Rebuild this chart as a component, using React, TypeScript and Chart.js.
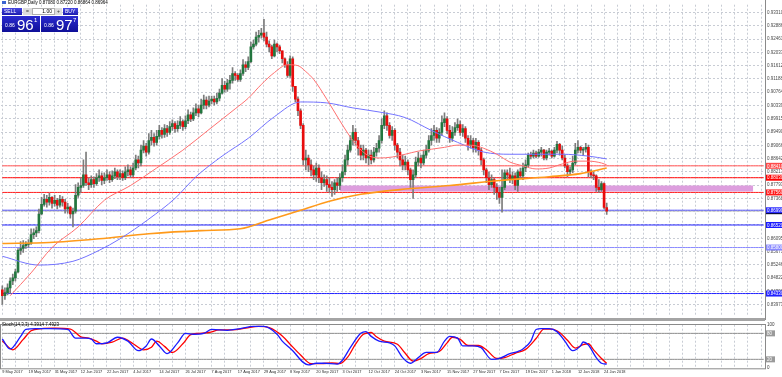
import React, { useEffect, useRef } from "react";
import { Chart, registerables } from "chart.js";

Chart.register(...registerables);

const N_SLOTS = 292;
const FONT = '"Liberation Sans", Arial, sans-serif';
const GRID = "#c8ccd4";

const DATE_LABELS = ["9 May 2017", "19 May 2017", "31 May 2017", "12 Jun 2017", "22 Jun 2017", "4 Jul 2017", "14 Jul 2017", "26 Jul 2017", "7 Aug 2017", "17 Aug 2017", "29 Aug 2017", "8 Sep 2017", "20 Sep 2017", "3 Oct 2017", "12 Oct 2017", "24 Oct 2017", "3 Nov 2017", "15 Nov 2017", "27 Nov 2017", "7 Dec 2017", "19 Dec 2017", "1 Jan 2018", "12 Jan 2018", "24 Jan 2018"];

const PRICE_TICKS = [0.9331, 0.92886, 0.92461, 0.92037, 0.91612, 0.91188, 0.90764, 0.90339, 0.89915, 0.8949, 0.89066, 0.88642, 0.88217, 0.87793, 0.87368, 0.86944, 0.8652, 0.86095, 0.85671, 0.85246, 0.84822, 0.84398, 0.83973];
const PRICE_MIN = 0.83635;
const PRICE_MAX = 0.93557;

const FIRST_OPEN = 0.8445;
const CLOSE = [
  0.8426, 0.8436, 0.8451, 0.8473, 0.8483, 0.8502, 0.8571, 0.8577, 0.8586, 0.8590,
  0.8593, 0.8621, 0.8627, 0.8634, 0.8687, 0.8718, 0.8734, 0.8725, 0.8740, 0.8721,
  0.8731, 0.8715, 0.8734, 0.8725, 0.8703, 0.8709, 0.8687, 0.8696, 0.8747, 0.8772,
  0.8778, 0.8812, 0.8787, 0.8781, 0.8797, 0.8784, 0.8803, 0.8809, 0.8794, 0.8803,
  0.8812, 0.8797, 0.8809, 0.8822, 0.8806, 0.8816, 0.8803, 0.8822, 0.8828, 0.8812,
  0.8834, 0.8860, 0.8850, 0.8891, 0.8904, 0.8885, 0.8922, 0.8932, 0.8916, 0.8935,
  0.8954, 0.8941, 0.8960, 0.8948, 0.8966, 0.8976, 0.8960, 0.8970, 0.8982, 0.8966,
  0.8985, 0.9004, 0.8991, 0.9010, 0.9023, 0.9010, 0.9035, 0.9051, 0.9035, 0.9048,
  0.9054, 0.9045, 0.9057, 0.9073, 0.9098, 0.9086, 0.9105, 0.9114, 0.9136, 0.9130,
  0.9117, 0.9136, 0.9164, 0.9155, 0.9174, 0.9221, 0.9230, 0.9252, 0.9258, 0.9265,
  0.9252, 0.9230, 0.9221, 0.9192, 0.9230, 0.9221, 0.9208, 0.9183, 0.9164, 0.9130,
  0.9183, 0.9095, 0.9054, 0.9017, 0.8970, 0.8860, 0.8866, 0.8844, 0.8828, 0.8812,
  0.8834, 0.8803, 0.8787, 0.8797, 0.8781, 0.8772, 0.8765, 0.8787, 0.8778, 0.8803,
  0.8822, 0.8860, 0.8891, 0.8922, 0.8948, 0.8922, 0.8897, 0.8875, 0.8891, 0.8866,
  0.8875, 0.8860, 0.8885, 0.8897, 0.8922, 0.8970, 0.9001, 0.8970, 0.8938, 0.8954,
  0.8907, 0.8885, 0.8860, 0.8844, 0.8853, 0.8828, 0.8797, 0.8812, 0.8853, 0.8866,
  0.8850, 0.8875, 0.8891, 0.8922, 0.8938, 0.8954, 0.8929, 0.8948, 0.8979, 0.8991,
  0.8954, 0.8929, 0.8948, 0.8963, 0.8973, 0.8948, 0.8960, 0.8929, 0.8907, 0.8922,
  0.8897, 0.8916, 0.8891, 0.8860, 0.8828, 0.8803, 0.8781, 0.8797, 0.8772, 0.8756,
  0.8740, 0.8772, 0.8819, 0.8812, 0.8797, 0.8809, 0.8778, 0.8822, 0.8809, 0.8834,
  0.8844, 0.8875, 0.8872, 0.8882, 0.8872, 0.8885, 0.8891, 0.8866, 0.8885, 0.8888,
  0.8872, 0.8891, 0.8910, 0.8891, 0.8866, 0.8841, 0.8822, 0.8828, 0.8850, 0.8891,
  0.8900, 0.8891, 0.8894, 0.8900, 0.8822, 0.8812, 0.8809, 0.8772, 0.8765, 0.8784,
  0.8708, 0.8696,
];
const HIGH = [
  0.8458, 0.8451, 0.8464, 0.8483, 0.8495, 0.8511, 0.8577, 0.8599, 0.8602, 0.8599,
  0.8605, 0.8640, 0.8640, 0.8646, 0.8703, 0.8740, 0.8750, 0.8747, 0.8753, 0.8743,
  0.8747, 0.8737, 0.8747, 0.8743, 0.8734, 0.8721, 0.8712, 0.8706, 0.8781, 0.8787,
  0.8803, 0.8860, 0.8885, 0.8803, 0.8809, 0.8806, 0.8816, 0.8828, 0.8819, 0.8819,
  0.8828, 0.8822, 0.8825, 0.8834, 0.8828, 0.8828, 0.8825, 0.8838, 0.8844, 0.8838,
  0.8850, 0.8875, 0.8872, 0.8907, 0.8922, 0.8913, 0.8944, 0.8954, 0.8944, 0.8954,
  0.8970, 0.8963, 0.8973, 0.8970, 0.8982, 0.8988, 0.8982, 0.8985, 0.8998, 0.8988,
  0.9001, 0.9020, 0.9013, 0.9026, 0.9039, 0.9035, 0.9054, 0.9067, 0.9061, 0.9064,
  0.9064, 0.9064, 0.9073, 0.9086, 0.9120, 0.9111, 0.9117, 0.9130, 0.9155, 0.9142,
  0.9136, 0.9148, 0.9180, 0.9174, 0.9189, 0.9236, 0.9243, 0.9268, 0.9274, 0.9280,
  0.9309, 0.9268, 0.9240, 0.9227, 0.9243, 0.9233, 0.9227, 0.9205, 0.9186, 0.9174,
  0.9192, 0.9189, 0.9092, 0.9061, 0.9023, 0.8976, 0.8891, 0.8875, 0.8860, 0.8841,
  0.8850, 0.8844, 0.8822, 0.8812, 0.8809, 0.8803, 0.8791, 0.8797, 0.8803, 0.8816,
  0.8844, 0.8875, 0.8907, 0.8938, 0.8970, 0.8960, 0.8932, 0.8907, 0.8907, 0.8897,
  0.8891, 0.8891, 0.8900, 0.8913, 0.8938, 0.8991, 0.9017, 0.9010, 0.8979, 0.8966,
  0.8960, 0.8913, 0.8897, 0.8875, 0.8872, 0.8860, 0.8834, 0.8828, 0.8869, 0.8885,
  0.8875, 0.8891, 0.8907, 0.8938, 0.8960, 0.8970, 0.8963, 0.8960, 0.9001, 0.9010,
  0.8998, 0.8970, 0.8966, 0.8979, 0.8991, 0.8985, 0.8973, 0.8966, 0.8938, 0.8938,
  0.8929, 0.8929, 0.8922, 0.8897, 0.8866, 0.8834, 0.8822, 0.8812, 0.8803, 0.8784,
  0.8772, 0.8828, 0.8828, 0.8828, 0.8834, 0.8822, 0.8819, 0.8828, 0.8834, 0.8850,
  0.8860, 0.8882, 0.8885, 0.8891, 0.8888, 0.8894, 0.8900, 0.8894, 0.8891, 0.8897,
  0.8891, 0.8900, 0.8919, 0.8913, 0.8904, 0.8875, 0.8847, 0.8838, 0.8872, 0.8913,
  0.8922, 0.8904, 0.8900, 0.8913, 0.8907, 0.8828, 0.8822, 0.8812, 0.8797, 0.8791,
  0.8787, 0.8722,
];
const LOW = [
  0.8398, 0.8414, 0.8429, 0.8433, 0.8461, 0.8473, 0.8499, 0.8558, 0.8564, 0.8577,
  0.8580, 0.8590, 0.8608, 0.8615, 0.8627, 0.8684, 0.8712, 0.8709, 0.8715, 0.8706,
  0.8712, 0.8703, 0.8709, 0.8712, 0.8690, 0.8690, 0.8674, 0.8646, 0.8690, 0.8740,
  0.8756, 0.8772, 0.8778, 0.8765, 0.8772, 0.8772, 0.8778, 0.8791, 0.8781, 0.8784,
  0.8794, 0.8787, 0.8791, 0.8800, 0.8797, 0.8797, 0.8794, 0.8797, 0.8809, 0.8803,
  0.8806, 0.8828, 0.8834, 0.8841, 0.8882, 0.8872, 0.8878, 0.8907, 0.8904, 0.8907,
  0.8926, 0.8929, 0.8932, 0.8935, 0.8941, 0.8954, 0.8948, 0.8951, 0.8960, 0.8954,
  0.8960, 0.8976, 0.8982, 0.8985, 0.9001, 0.8998, 0.9007, 0.9023, 0.9023, 0.9029,
  0.9039, 0.9035, 0.9039, 0.9048, 0.9070, 0.9076, 0.9079, 0.9086, 0.9105, 0.9114,
  0.9111, 0.9111, 0.9130, 0.9142, 0.9148, 0.9170, 0.9214, 0.9224, 0.9236, 0.9249,
  0.9240, 0.9221, 0.9205, 0.9183, 0.9189, 0.9205, 0.9199, 0.9170, 0.9155, 0.9123,
  0.9123, 0.9079, 0.9045, 0.9001, 0.8960, 0.8844, 0.8828, 0.8822, 0.8809, 0.8797,
  0.8791, 0.8787, 0.8765, 0.8775, 0.8759, 0.8756, 0.8743, 0.8750, 0.8759, 0.8765,
  0.8791, 0.8812, 0.8844, 0.8885, 0.8907, 0.8907, 0.8875, 0.8860, 0.8860, 0.8850,
  0.8844, 0.8847, 0.8853, 0.8872, 0.8885, 0.8913, 0.8960, 0.8954, 0.8929, 0.8922,
  0.8891, 0.8866, 0.8841, 0.8828, 0.8828, 0.8812, 0.8772, 0.8737, 0.8803, 0.8841,
  0.8834, 0.8844, 0.8866, 0.8885, 0.8907, 0.8922, 0.8916, 0.8916, 0.8938, 0.8966,
  0.8944, 0.8916, 0.8919, 0.8938, 0.8954, 0.8938, 0.8935, 0.8916, 0.8891, 0.8897,
  0.8885, 0.8885, 0.8875, 0.8844, 0.8812, 0.8787, 0.8765, 0.8772, 0.8750, 0.8734,
  0.8721, 0.8693, 0.8765, 0.8797, 0.8787, 0.8784, 0.8765, 0.8759, 0.8803, 0.8797,
  0.8822, 0.8838, 0.8863, 0.8866, 0.8866, 0.8869, 0.8872, 0.8860, 0.8860, 0.8875,
  0.8866, 0.8869, 0.8882, 0.8875, 0.8860, 0.8834, 0.8806, 0.8812, 0.8819, 0.8844,
  0.8882, 0.8882, 0.8875, 0.8885, 0.8806, 0.8803, 0.8797, 0.8759, 0.8756, 0.8759,
  0.8703, 0.8686,
];

// moving averages: [bar index, price]
const MA_RED: [number, number][] = [[3, 0.8426], [11, 0.8499], [19, 0.858], [29, 0.8646], [39, 0.8731], [49, 0.8778], [59, 0.8834], [69, 0.8891], [79, 0.8957], [89, 0.9023], [94, 0.9057], [99, 0.9101], [104, 0.9139], [109, 0.9164], [113, 0.9161], [116, 0.9142], [119, 0.9117], [124, 0.9054], [129, 0.8985], [134, 0.8922], [139, 0.8878], [144, 0.8866], [149, 0.8869], [154, 0.8878], [159, 0.8888], [164, 0.8894], [169, 0.89], [174, 0.8907], [179, 0.8907], [184, 0.8897], [189, 0.8878], [194, 0.8853], [199, 0.8841], [204, 0.8831], [209, 0.8834], [214, 0.8847], [219, 0.8856], [224, 0.8856], [229, 0.885], [231, 0.8844]];
const MA_BLUE: [number, number][] = [[0, 0.8552], [14, 0.8524], [27, 0.8536], [37, 0.8571], [45, 0.8608], [56, 0.8671], [66, 0.8737], [74, 0.8806], [84, 0.8872], [94, 0.8929], [104, 0.8998], [114, 0.9045], [124, 0.9042], [134, 0.9026], [144, 0.9013], [154, 0.8995], [164, 0.8954], [174, 0.8916], [184, 0.8885], [194, 0.8878], [204, 0.8878], [214, 0.8878], [224, 0.8872], [231, 0.8863]];
const MA_ORANGE: [number, number][] = [[0, 0.8593], [18, 0.8596], [37, 0.8608], [56, 0.8624], [76, 0.8634], [91, 0.864], [102, 0.8668], [114, 0.8699], [125, 0.8728], [137, 0.875], [152, 0.8765], [171, 0.8778], [190, 0.8794], [209, 0.8806], [221, 0.8816], [231, 0.8834]];

// stochastic (14,3,3): [bar index, value]
const STOCH_K: [number, number][] = [[0, 67], [3, 44], [7, 73], [9, 89], [13, 91], [18, 91], [25, 89], [28, 69], [32, 69], [34, 67], [36, 56], [40, 58], [44, 71], [48, 62], [52, 40], [55, 51], [57, 67], [60, 51], [63, 33], [67, 58], [70, 80], [73, 78], [77, 80], [80, 89], [86, 87], [91, 91], [96, 96], [100, 96], [105, 78], [107, 62], [111, 40], [115, 13], [117, 7], [120, 11], [123, 11], [128, 9], [130, 18], [133, 47], [137, 80], [139, 84], [141, 73], [144, 62], [148, 58], [150, 51], [153, 24], [156, 11], [159, 24], [162, 36], [166, 36], [169, 62], [171, 73], [174, 69], [176, 51], [180, 51], [183, 47], [187, 20], [190, 22], [194, 33], [197, 38], [199, 44], [202, 62], [204, 89], [206, 91], [209, 91], [212, 84], [215, 62], [218, 40], [221, 51], [222, 60], [224, 53], [227, 24], [229, 11], [231, 9]];
const STOCH_D: [number, number][] = [[0, 63], [4, 42], [8, 66], [11, 86], [15, 91], [20, 92], [26, 90], [30, 72], [33, 69], [36, 62], [38, 56], [42, 60], [46, 69], [50, 56], [54, 42], [57, 48], [59, 62], [62, 50], [65, 36], [69, 56], [72, 77], [75, 80], [79, 82], [83, 88], [88, 88], [93, 92], [98, 96], [102, 93], [107, 74], [110, 55], [114, 30], [118, 10], [122, 10], [126, 12], [129, 10], [132, 25], [135, 55], [138, 78], [141, 82], [143, 72], [146, 62], [151, 55], [154, 34], [157, 16], [160, 22], [163, 33], [167, 38], [170, 58], [172, 71], [175, 66], [178, 52], [182, 52], [185, 42], [189, 22], [192, 24], [196, 34], [200, 43], [204, 68], [207, 90], [210, 90], [213, 82], [216, 64], [219, 46], [222, 54], [224, 56], [226, 42], [229, 22], [231, 11]];
const STOCH_LEVELS = [20, 80];

const LEVEL_PRICES = [0.8841, 0.8803, 0.8756, 0.8699, 0.8652, 0.858, 0.8433];
const LEVEL_COLORS = ["#ff4a4a", "#ff0000", "#ff1a1a", "#2a2aff", "#1a1aff", "#8a8aff", "#2020ff"];
const BAND_TOP = 0.8778;
const BAND_BOTTOM = 0.8759;
const BAND_FROM = 129;
const BAND_TO = 287;
const BID = 0.86961;

function sparse(points: [number, number][]) {
  const a: (number | null)[] = new Array(N_SLOTS).fill(null);
  points.forEach(([i, v]) => (a[i] = v));
  return a;
}
function span(from: number, to: number, v: number) {
  const a: (number | null)[] = new Array(N_SLOTS).fill(null);
  for (let i = from; i <= to; i++) a[i] = v;
  return a;
}

const labels = Array.from({ length: N_SLOTS }, (_, i) => String(i));

const xGridTicks = (s: any) => {
  s.ticks = s.ticks.filter((t: any) => t.value % 5 === 0);
};

export default function App() {
  const mainRef = useRef<HTMLCanvasElement>(null);
  const stochRef = useRef<HTMLCanvasElement>(null);

  useEffect(() => {
    document.body.style.margin = "0";
    const opens = CLOSE.map((c, i) => (i === 0 ? FIRST_OPEN : CLOSE[i - 1]));
    const bodies: any[] = new Array(N_SLOTS).fill(null);
    const wicks: any[] = new Array(N_SLOTS).fill(null);
    const bodyColors: string[] = new Array(N_SLOTS).fill("#000");
    CLOSE.forEach((c, i) => {
      const o = opens[i];
      bodies[i] = [o, c];
      wicks[i] = [Math.min(LOW[i], o, c), Math.max(HIGH[i], o, c)];
      bodyColors[i] = c >= o ? "#23763f" : "#e80c0c";
    });

    const lineBase = { type: "line", pointRadius: 0, spanGaps: true, fill: false };

    const levelSets = LEVEL_PRICES.map((p, i) => ({
      ...lineBase,
      data: span(0, N_SLOTS - 1, p),
      borderColor: LEVEL_COLORS[i],
      borderWidth: 1,
      order: 10,
    }));

    const framePlugin = {
      id: "frame",
      afterDraw(chart: any) {
        const { ctx, chartArea: a } = chart;
        ctx.save();
        ctx.strokeStyle = "#8a8a8a";
        ctx.lineWidth = 1;
        ctx.beginPath();
        ctx.moveTo(Math.round(a.right) + 0.5, 0);
        ctx.lineTo(Math.round(a.right) + 0.5, chart.height);
        ctx.stroke();
        ctx.restore();
      },
    };

    const tagPlugin = {
      id: "tags",
      afterDraw(chart: any) {
        const { ctx, chartArea: a, scales } = chart;
        const tags = [{ p: BID, c: "#000" }, ...LEVEL_PRICES.map((p, i) => ({ p, c: LEVEL_COLORS[i] }))];
        ctx.save();
        ctx.font = `4.5px ${FONT}`;
        ctx.textBaseline = "middle";
        tags.forEach((t) => {
          const py = scales.y.getPixelForValue(t.p);
          ctx.fillStyle = t.c;
          ctx.fillRect(a.right + 1, py - 3, chart.width - a.right, 6);
          ctx.fillStyle = "#fff";
          ctx.fillText(t.p.toFixed(5), a.right + 2, py + 0.5);
        });
        ctx.restore();
      },
    };

    const main = new Chart(mainRef.current as HTMLCanvasElement, {
      type: "bar",
      data: {
        labels,
        datasets: [
          { ...lineBase, data: span(BAND_FROM, BAND_TO, BAND_TOP), borderWidth: 0, borderColor: "rgba(0,0,0,0)", order: 12 },
          { ...lineBase, data: span(BAND_FROM, BAND_TO, BAND_BOTTOM), borderWidth: 0, borderColor: "rgba(0,0,0,0)", fill: "-1", backgroundColor: "#dd9ede", order: 11 },
          { ...lineBase, data: span(0, N_SLOTS - 1, BID), borderColor: "#c8c8c8", borderWidth: 1, order: 10 },
          ...levelSets,
          { type: "bar", data: wicks, backgroundColor: "#7c7c7c", barThickness: 1, grouped: false, order: 6 },
          { type: "bar", data: bodies, backgroundColor: bodyColors, barThickness: 2, grouped: false, minBarLength: 1, order: 5 },
          { ...lineBase, data: sparse(MA_ORANGE), borderColor: "#ff9a1a", borderWidth: 1.6, cubicInterpolationMode: "monotone", order: 3 },
          { ...lineBase, data: sparse(MA_BLUE), borderColor: "#7373ff", borderWidth: 1, cubicInterpolationMode: "monotone", order: 2 },
          { ...lineBase, data: sparse(MA_RED), borderColor: "#ff7070", borderWidth: 1, cubicInterpolationMode: "monotone", order: 1 },
        ] as any,
      },
      options: {
        animation: false,
        responsive: false,
        maintainAspectRatio: false,
        events: [],
        layout: { padding: { left: 1, top: 2, right: 0, bottom: 2 } },
        plugins: { legend: { display: false }, tooltip: { enabled: false } },
        scales: {
          x: {
            type: "category",
            offset: true,
            grid: { offset: false, color: GRID, drawTicks: false },
            border: { display: false, dash: [2, 2] },
            ticks: { display: false, autoSkip: false },
            afterBuildTicks: xGridTicks,
            afterFit: (s: any) => {
              s.height = 0;
            },
          },
          y: {
            position: "right",
            min: PRICE_MIN,
            max: PRICE_MAX,
            afterBuildTicks: (s: any) => {
              s.ticks = PRICE_TICKS.map((v) => ({ value: v }));
            },
            afterFit: (s: any) => {
              s.width = 17;
            },
            grid: { color: GRID, drawTicks: false },
            border: { display: false, dash: [2, 2] },
            ticks: {
              padding: 2,
              color: "#4a4a4a",
              font: { size: 4.5, family: FONT },
              callback: (v: any) => Number(v).toFixed(5),
            },
          },
        },
      } as any,
      plugins: [framePlugin, tagPlugin],
    });

    const stochTagPlugin = {
      id: "stochTags",
      afterDraw(chart: any) {
        const { ctx, chartArea: a, scales } = chart;
        ctx.save();
        ctx.strokeStyle = "#8a8a8a";
        ctx.lineWidth = 1;
        ctx.strokeRect(a.left - 0.5, Math.round(a.top) - 0.5, a.right - a.left + 1, a.bottom - a.top + 1);
        ctx.font = `4.5px ${FONT}`;
        ctx.textBaseline = "middle";
        STOCH_LEVELS.forEach((lv) => {
          const py = scales.y.getPixelForValue(lv);
          ctx.fillStyle = "#9a9a9a";
          ctx.fillRect(a.right + 1, py - 3, 9, 6);
          ctx.fillStyle = "#fff";
          ctx.fillText(String(lv), a.right + 2, py + 0.5);
        });
        ctx.restore();
      },
    };

    const stoch = new Chart(stochRef.current as HTMLCanvasElement, {
      type: "line",
      data: {
        labels,
        datasets: [
          ...STOCH_LEVELS.map((lv) => ({ ...lineBase, data: span(0, N_SLOTS - 1, lv), borderColor: "#8c8c8c", borderWidth: 1, order: 5 })),
          { ...lineBase, data: sparse(STOCH_D), borderColor: "#ff0000", borderWidth: 1.3, cubicInterpolationMode: "monotone", order: 2 },
          { ...lineBase, data: sparse(STOCH_K), borderColor: "#1a1aff", borderWidth: 1.3, cubicInterpolationMode: "monotone", order: 1 },
        ] as any,
      },
      options: {
        animation: false,
        responsive: false,
        maintainAspectRatio: false,
        events: [],
        layout: { padding: { left: 1, top: 3, right: 0, bottom: 0 } },
        plugins: { legend: { display: false }, tooltip: { enabled: false } },
        scales: {
          x: {
            type: "category",
            offset: true,
            grid: { offset: false, color: GRID, drawTicks: false },
            border: { display: false, dash: [2, 2] },
            ticks: {
              autoSkip: false,
              maxRotation: 0,
              minRotation: 0,
              align: "start",
              padding: 2,
              color: "#2a2a2a",
              font: { size: 3.9, family: FONT },
              callback: (v: any) => {
                const n = Number(v);
                return n % 10 === 0 && DATE_LABELS[n / 10] ? DATE_LABELS[n / 10] : "";
              },
            },
            afterBuildTicks: xGridTicks,
            afterFit: (s: any) => {
              s.height = 9;
            },
          },
          y: {
            position: "right",
            min: 0,
            max: 100,
            afterBuildTicks: (s: any) => {
              s.ticks = [0, 100].map((v) => ({ value: v }));
            },
            afterFit: (s: any) => {
              s.width = 17;
            },
            grid: { display: false, drawTicks: false },
            border: { display: false },
            ticks: { padding: 2, color: "#3a3a3a", font: { size: 4.5, family: FONT } },
          },
        },
      } as any,
      plugins: [stochTagPlugin],
    });

    return () => {
      main.destroy();
      stoch.destroy();
    };
  }, []);

  const btnBlue = "linear-gradient(#4646e0, #1c1cb0)";
  const boxBlue = "linear-gradient(#2b2bd0, #0f0f98)";
  const small = { fontFamily: FONT, fontSize: 4.5, lineHeight: "5px", whiteSpace: "nowrap" as const };

  return (
    <div style={{ position: "fixed", left: 0, top: 0, width: 782, height: 377, background: "#fff", overflow: "hidden" }}>
      <canvas ref={mainRef} width={782} height={320} style={{ position: "absolute", left: 0, top: 0, display: "block" }} />
      <canvas ref={stochRef} width={782} height={57} style={{ position: "absolute", left: 0, top: 320, display: "block" }} />
      <div style={{ position: "absolute", left: 0, top: 318, width: 765, height: 3, background: "#a4a4a4" }} />
      <div style={{ position: "absolute", left: 2, top: 0, color: "#000", ...small }}>
        <span style={{ display: "inline-block", width: 4, height: 3, background: "#3c64d0", marginRight: 2 }} />
        EURGBP,Daily 0.87080 0.87220 0.86864 0.86964
      </div>
      <div style={{ position: "absolute", left: 2, top: 8, width: 20, height: 7, background: btnBlue, color: "#fff", ...small, fontSize: 5, lineHeight: "7px", paddingLeft: 2, boxSizing: "border-box" }}>SELL</div>
      <div style={{ position: "absolute", left: 23, top: 8, width: 9, height: 7, background: "#dcdcdc", color: "#333", ...small, fontSize: 5, lineHeight: "7px", textAlign: "center" }}>=</div>
      <div style={{ position: "absolute", left: 32, top: 8, width: 23, height: 7, background: "#fff", border: "1px solid #b0b0b0", boxSizing: "border-box", color: "#000", ...small, fontSize: 5, lineHeight: "5px", textAlign: "right", paddingRight: 2 }}>1.00</div>
      <div style={{ position: "absolute", left: 55, top: 8, width: 7, height: 7, background: "#dcdcdc", color: "#333", ...small, fontSize: 5, lineHeight: "7px", textAlign: "center" }}>+</div>
      <div style={{ position: "absolute", left: 63, top: 8, width: 15, height: 7, background: btnBlue, color: "#fff", ...small, fontSize: 5, lineHeight: "7px", paddingLeft: 2, boxSizing: "border-box" }}>BUY</div>
      <div style={{ position: "absolute", left: 2, top: 16, width: 38, height: 16, background: boxBlue, color: "#fff", fontFamily: FONT }}>
        <span style={{ position: "absolute", left: 3, top: 7, fontSize: 5, lineHeight: "5px" }}>0.86</span>
        <span style={{ position: "absolute", left: 15, top: 1, fontSize: 15, lineHeight: "15px" }}>96</span>
        <span style={{ position: "absolute", left: 32, top: 1, fontSize: 6, lineHeight: "6px" }}>1</span>
      </div>
      <div style={{ position: "absolute", left: 41, top: 16, width: 37, height: 16, background: boxBlue, color: "#fff", fontFamily: FONT }}>
        <span style={{ position: "absolute", left: 3, top: 7, fontSize: 5, lineHeight: "5px" }}>0.86</span>
        <span style={{ position: "absolute", left: 15, top: 1, fontSize: 15, lineHeight: "15px" }}>97</span>
        <span style={{ position: "absolute", left: 32, top: 1, fontSize: 6, lineHeight: "6px" }}>7</span>
      </div>
      <div style={{ position: "absolute", left: 2, top: 322, color: "#000", ...small }}>Stoch(14,3,3) 4.3914 7.4923</div>
    </div>
  );
}
